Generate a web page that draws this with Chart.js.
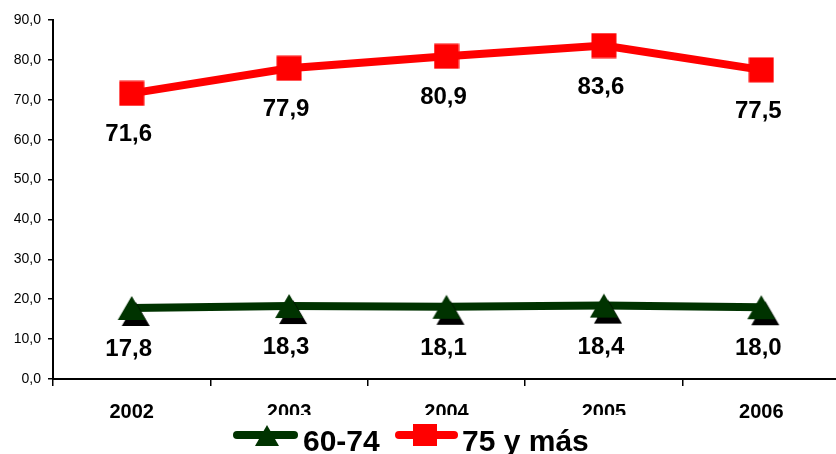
<!DOCTYPE html>
<html>
<head>
<meta charset="utf-8">
<script src="https://cdn.jsdelivr.net/npm/chart.js@4/dist/chart.umd.min.js"></script>
<style>
  html, body { margin: 0; padding: 0; background: #fff; overflow: hidden; width: 836px; height: 454px; }
  canvas { display: block; }
</style>
</head>
<body>
<canvas id="grafico" width="860" height="454"></canvas>
<script>
// Años del periodo
const years = ['2002', '2003', '2004', '2005', '2006'];
// Valores por grupo de edad
const serie6074 = [17.8, 18.3, 18.1, 18.4, 18.0];
const serie75 = [71.6, 77.9, 80.9, 83.6, 77.5];
const seriesNames = ['60-74', '75 y más'];
// Eje vertical
const yMin = 0, yMax = 90, yStep = 10;

const FONT = '"Liberation Sans", Arial, sans-serif';
const VERDE = '#003300';
const ROJO = '#ff0000';

const fmt = v => v.toFixed(1).replace('.', ',');

// Triángulo verde con sombra negra desplazada
function markerTriangulo() {
  const c = document.createElement('canvas');
  c.width = 48; c.height = 48;
  const g = c.getContext('2d');
  const tri = (dx, dy, col) => {
    g.beginPath();
    g.moveTo(24 + dx, 12 + dy);
    g.lineTo(38 + dx, 36 + dy);
    g.lineTo(10 + dx, 36 + dy);
    g.closePath();
    g.fillStyle = col;
    g.fill();
  };
  tri(4, 6, '#000');
  tri(0, 0, VERDE);
  return c;
}

// Cuadrado rojo
function markerCuadrado() {
  const c = document.createElement('canvas');
  c.width = 26; c.height = 26;
  const g = c.getContext('2d');
  g.fillStyle = ROJO;
  g.fillRect(0.5, 0.5, 25, 25);
  return c;
}

// Etiquetas de valor bajo cada punto
const etiquetas = {
  id: 'etiquetas',
  afterDatasetsDraw(chart) {
    const ctx = chart.ctx;
    ctx.save();
    ctx.font = 'bold 24px ' + FONT;
    ctx.fillStyle = '#000';
    ctx.textAlign = 'center';
    ctx.textBaseline = 'alphabetic';
    chart.data.datasets.forEach((ds, i) => {
      const meta = chart.getDatasetMeta(i);
      meta.data.forEach((pt, j) => {
        ctx.fillText(fmt(ds.data[j]), pt.x - 3, pt.y + 48);
      });
    });
    ctx.restore();
  }
};

// Leyenda inferior con línea y marcador
const leyenda = {
  id: 'leyenda',
  afterDraw(chart) {
    const ctx = chart.ctx;
    const y = 435;
    ctx.save();
    ctx.fillStyle = '#fff';
    ctx.fillRect(222, 415, 426, 39);

    ctx.lineCap = 'round';
    ctx.lineWidth = 8;
    // 60-74
    ctx.strokeStyle = VERDE;
    ctx.beginPath(); ctx.moveTo(237, y); ctx.lineTo(294, y); ctx.stroke();
    ctx.fillStyle = VERDE;
    ctx.beginPath();
    ctx.moveTo(267, y - 10); ctx.lineTo(279, y + 11); ctx.lineTo(255, y + 11);
    ctx.closePath(); ctx.fill();
    // 75 y más
    ctx.strokeStyle = ROJO;
    ctx.beginPath(); ctx.moveTo(399, y); ctx.lineTo(454, y); ctx.stroke();
    ctx.fillStyle = ROJO;
    ctx.fillRect(413, y - 11, 24, 22);

    ctx.fillStyle = '#000';
    ctx.font = 'bold 30px ' + FONT;
    ctx.textAlign = 'left';
    ctx.textBaseline = 'alphabetic';
    ctx.fillText(seriesNames[0], 303, 451);
    ctx.fillText(seriesNames[1], 462, 451);
    ctx.restore();
  }
};

Chart.defaults.font.family = FONT;
Chart.defaults.color = '#000';

new Chart(document.getElementById('grafico'), {
  type: 'line',
  data: {
    labels: years,
    datasets: [
      {
        label: seriesNames[0],
        data: serie6074,
        borderColor: VERDE,
        borderWidth: 8,
        pointStyle: markerTriangulo(),
        pointRadius: 12,
        tension: 0,
        clip: false
      },
      {
        label: seriesNames[1],
        data: serie75,
        borderColor: ROJO,
        borderWidth: 8,
        pointStyle: markerCuadrado(),
        pointRadius: 12,
        tension: 0,
        clip: false
      }
    ]
  },
  options: {
    responsive: false,
    animation: false,
    devicePixelRatio: 1,
    events: [],
    layout: { padding: { top: 19, right: 14, left: 0, bottom: 0 } },
    plugins: {
      legend: { display: false },
      tooltip: { enabled: false }
    },
    scales: {
      x: {
        type: 'category',
        offset: true,
        grid: { offset: true, drawOnChartArea: false, drawTicks: true, tickLength: 7, color: '#000', lineWidth: 1.5 },
        border: { display: true, color: '#000', width: 2 },
        ticks: { font: { size: 20, weight: 'bold' }, color: '#000', padding: 14, maxRotation: 0, autoSkip: false },
        afterFit(s) { s.height = 75; }
      },
      y: {
        min: yMin,
        max: yMax,
        ticks: { stepSize: yStep, callback: v => fmt(v), font: { size: 14 }, color: '#000', padding: 7 },
        grid: { drawOnChartArea: false, drawTicks: true, tickLength: 5, color: '#000', lineWidth: 1.5 },
        border: { display: true, color: '#000', width: 2 },
        afterFit(s) { s.width = 53; }
      }
    }
  },
  plugins: [etiquetas, leyenda]
});
</script>
</body>
</html>
